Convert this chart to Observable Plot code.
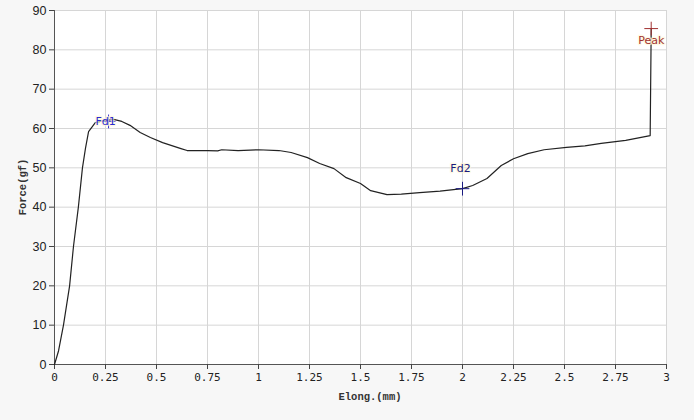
<!DOCTYPE html>
<html><head><meta charset="utf-8">
<script src="https://cdn.jsdelivr.net/npm/d3@7"></script>
<script src="https://cdn.jsdelivr.net/npm/@observablehq/plot@0.6"></script>
<style>
html,body{margin:0;padding:0;background:#f7f7f7;}
#chart{width:694px;height:420px;}
</style></head>
<body><div id="chart"></div>
<script>
const elong = [0, 0.02, 0.044, 0.074, 0.093, 0.117, 0.137, 0.152, 0.167, 0.20, 0.24, 0.29, 0.33, 0.37, 0.42, 0.47, 0.53, 0.62, 0.65, 0.75, 0.8, 0.82, 0.9, 1.0, 1.1, 1.16, 1.24, 1.30, 1.37, 1.43, 1.50, 1.55, 1.63, 1.70, 1.79, 1.89, 2.0, 2.05, 2.12, 2.19, 2.25, 2.32, 2.40, 2.51, 2.60, 2.68, 2.80, 2.92, 2.925];
const force = [0, 3.5, 10, 20, 30, 40, 50, 55, 59.2, 61.5, 62.0, 62.3, 61.8, 60.8, 59, 57.7, 56.4, 54.9, 54.4, 54.4, 54.3, 54.6, 54.4, 54.6, 54.4, 53.9, 52.6, 51.1, 49.8, 47.5, 46, 44.2, 43.2, 43.3, 43.7, 44.1, 44.7, 45.5, 47.3, 50.6, 52.3, 53.6, 54.6, 55.2, 55.6, 56.2, 57.0, 58.2, 85.4];
const xTicks = [0, 0.25, 0.5, 0.75, 1, 1.25, 1.5, 1.75, 2, 2.25, 2.5, 2.75, 3];
const yTicks = [0, 10, 20, 30, 40, 50, 60, 70, 80, 90];
const markerNames = ["Fd1", "Fd2", "Peak"];
const markerX = [0.265, 2.0, 2.925];
const markerY = [61.8, 44.7, 85.4];
const markerColors = ["#2a2ad0", "#1a1a80", "#a03030"];
const labelDx = [-3, -2, 0];
const labelDy = [0, -20, 12];

const curve = elong.map((x, i) => ({x, y: force[i]}));
const markers = markerNames.map((n, i) => ({n, x: markerX[i], y: markerY[i], c: markerColors[i], dx: labelDx[i], dy: labelDy[i]}));

const chart = Plot.plot({
  width: 694, height: 420,
  marginLeft: 54, marginRight: 28, marginTop: 10, marginBottom: 56,
  style: {background: "transparent", overflow: "visible"},
  x: {domain: [0, 3], label: null},
  y: {domain: [0, 90], label: null},
  marks: [
    Plot.frame({fill: "white", stroke: "#a8a8a8"}),
    Plot.gridX(xTicks, {stroke: "#d6d6d6", strokeOpacity: 1}),
    Plot.gridY(yTicks, {stroke: "#d6d6d6", strokeOpacity: 1}),
    Plot.ruleX([0], {stroke: "#555"}),
    Plot.ruleY([0], {stroke: "#555"}),
    Plot.axisX({ticks: xTicks, tickSize: 5, tickPadding: 4, tickFormat: d => String(d), fontFamily: "DejaVu Sans Mono", fontSize: 11, stroke: "#444", fill: "#222", label: null}),
    Plot.axisY({ticks: yTicks, tickSize: 5, tickPadding: 3, fontFamily: "Liberation Sans", fontSize: 12.5, stroke: "#444", fill: "#222", label: null}),
    Plot.line(curve, {x: "x", y: "y", stroke: "#222", strokeWidth: 1.2}),
    ...markers.map(m => Plot.dot([m], {x: "x", y: "y", symbol: "plus", r: 4.5, stroke: m.c, strokeWidth: 1})),
    ...markers.map(m => Plot.text([m], {x: "x", y: "y", text: "n", dx: m.dx, dy: m.dy, fill: m.c, fontFamily: "DejaVu Sans", fontSize: 11, stroke: "#fff8d8", strokeWidth: 2.5, strokeOpacity: 0.7}))
  ]
});
const svg = d3.select(chart);
svg.append("text").attr("x", 370).attr("y", 400).attr("text-anchor", "middle")
  .attr("font-family", "Liberation Mono").attr("font-size", 10.5).attr("font-weight", "bold").attr("fill", "#333").text("Elong.(mm)");
svg.append("text").attr("transform", "translate(26,187) rotate(-90)").attr("text-anchor", "middle")
  .attr("font-family", "Liberation Mono").attr("font-size", 10.5).attr("font-weight", "bold").attr("fill", "#333").text("Force(gf)");
document.getElementById("chart").appendChild(chart);
</script>
</body></html>
